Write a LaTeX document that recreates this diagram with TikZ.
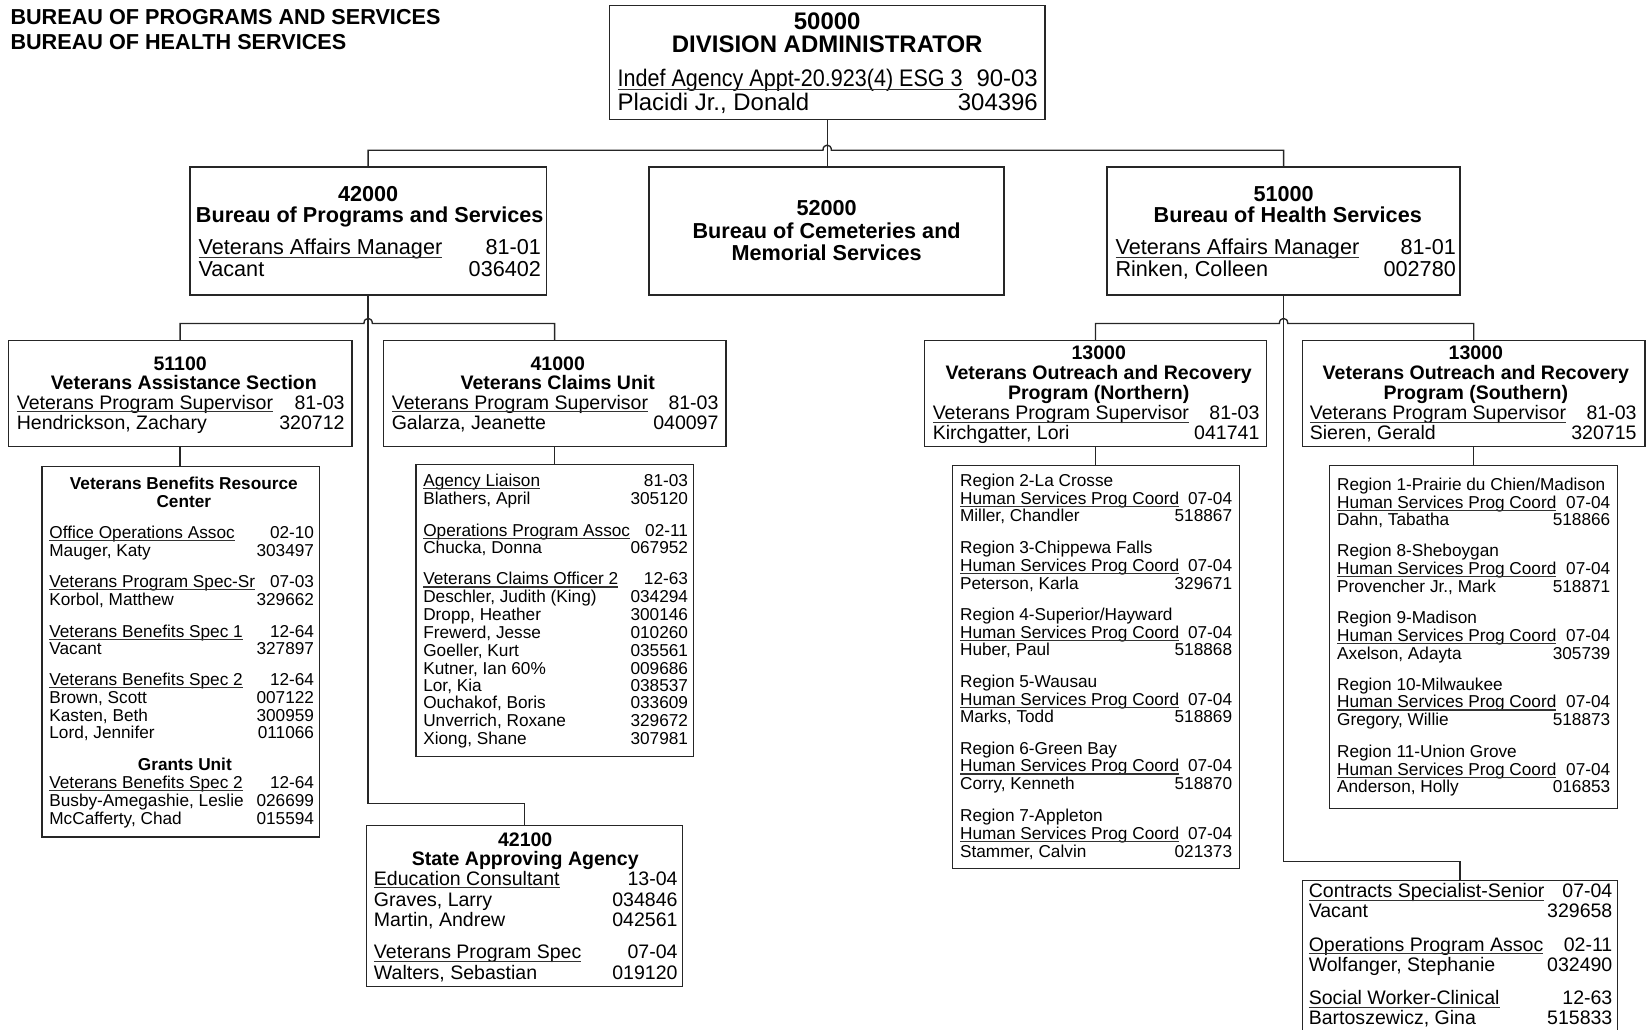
\documentclass[tikz,border=0pt]{standalone}
\usepackage{graphicx}
\usepackage{fontspec}
\setmainfont{Liberation Sans}
\usetikzlibrary{fit}
\newcounter{tn}
\newcommand\setgrp[3]{\tikzset{cur/.style={font=\fontsize{#1}{#1}\selectfont},curb/.style={font=\fontsize{#1}{#1}\selectfont\bfseries}}\def\yo{#2}\def\ud{#3}}
\newcommand\Lt[3]{\stepcounter{tn}\node[cur,txt,anchor=base west] (t\arabic{tn}) at (#1,{#2+\yo}) {#3};}
\newcommand\Rt[3]{\stepcounter{tn}\node[cur,txt,anchor=base east] (t\arabic{tn}) at (#1,{#2+\yo}) {#3};}
\newcommand\Ct[3]{\stepcounter{tn}\node[curb,txt,anchor=base] (t\arabic{tn}) at (#1,{#2+\yo}) {#3};}
\newcommand\Ul[5]{\Lt{#1}{#3}{#4}\draw[uline] ([yshift=-\ud]t\arabic{tn}.base west) -- ([yshift=-\ud]t\arabic{tn}.base east);\Rt{#2}{#3}{#5}}
\newcommand\Pl[5]{\Lt{#1}{#3}{#4}\Rt{#2}{#3}{#5}}
\begin{document}
\begin{tikzpicture}[x=0.5pt,y=-0.5pt,
  box/.style={draw=black!85,line width=0.65pt,inner sep=0pt,outer sep=0pt},
  con/.style={draw=black!85,line width=0.65pt},
  uline/.style={draw=black!80,line width=0.55pt},
  txt/.style={inner sep=0pt,outer sep=0pt,text=black}]
\useasboundingbox (0,0) rectangle (1568,980);
\clip (0,0) rectangle (1568,980);

% ---------- boxes ----------
\node[box,fit={(580,5) (995,114)}] (b50000) {};
\node[box,fit={(181,159) (520,281)}] (b42000) {};
\node[box,fit={(618,159) (956,281)}] (b52000) {};
\node[box,fit={(1054,159) (1390,281)}] (b51000) {};
\node[box,fit={(8,324) (335,425)}] (b51100) {};
\node[box,fit={(365,324) (691,425)}] (b41000) {};
\node[box,fit={(880,324) (1206,425)}] (b13N) {};
\node[box,fit={(1240,324) (1566,425)}] (b13S) {};
\node[box,fit={(40,444) (304,797)}] (bVBRC) {};
\node[box,fit={(396,442) (660,720)}] (bClaims) {};
\node[box,fit={(349,786) (650,939)}] (b42100) {};
\node[box,fit={(907,443) (1180,827)}] (bRegN) {};
\node[box,fit={(1266,443) (1540,770)}] (bRegS) {};
\node[box,fit={(1240,838) (1540,1000)}] (bCon) {};

% ---------- connectors ----------
\coordinate (tb1) at (783.5,143); \coordinate (tb2) at (791.5,143);
\draw[con] (b42000.north) |- (tb1) .. controls +(0,-6.5) and +(0,-6.5) .. (tb2) -| (b51000.north);
\draw[con] (b50000.south) -- (b50000.south |- b52000.north);
\coordinate (lb1) at (346.5,308); \coordinate (lb2) at (354.5,308);
\draw[con] (b51100.north) |- (lb1) .. controls +(0,-6.5) and +(0,-6.5) .. (lb2) -| (b41000.north);
\coordinate (k42) at (499.5,765);
\draw[con] (b42000.south) |- (k42) -- (b42100.north);
\draw[con] (b51100.south) -- (b51100.south |- bVBRC.north);
\draw[con] (b41000.south) -- (b41000.south |- bClaims.north);
\coordinate (rb1) at (1218,308); \coordinate (rb2) at (1226,308);
\draw[con] (b13N.north) |- (rb1) .. controls +(0,-6.5) and +(0,-6.5) .. (rb2) -| (b13S.north);
\coordinate (kc) at (1390,820);
\draw[con] (b51000.south) |- (kc) -- (bCon.north);
\draw[con] (b13N.south) -- (b13N.south |- bRegN.north);
\draw[con] (b13S.south) -- (b13S.south |- bRegS.north);

% ---------- header ----------
\setgrp{10.3}{7.4}{1.4}
\node[curb,txt,anchor=base west] (h1) at (10,{16+\yo}) {BUREAU OF PROGRAMS AND SERVICES};
\node[curb,txt,anchor=base west] (h2) at (10,{40+\yo}) {BUREAU OF HEALTH SERVICES};

% ---------- division ----------
\setgrp{11.4}{8.2}{1.6}
\Ct{787.5}{20}{50000}
\Ct{787.5}{42}{DIVISION ADMINISTRATOR}
\Ul{588}{988}{74}{\scalebox{0.9}[1]{Indef Agency Appt-20.923(4) ESG 3}}{90-03}
\Pl{588}{988}{97}{Placidi Jr., Donald}{304396}

% ---------- level 2 ----------
\setgrp{10.3}{7.4}{1.4}
\Ct{350.5}{184}{42000}
\Ct{352}{204}{Bureau of Programs and Services}
\Ul{189}{515}{235}{Veterans Affairs Manager}{81-01}
\Pl{189}{515}{256}{Vacant}{036402}

\Ct{787}{198}{52000}
\Ct{787}{220}{Bureau of Cemeteries and}
\Ct{787}{241}{Memorial Services}

\Ct{1222}{184}{51000}
\Ct{1226}{204}{Bureau of Health Services}
\Ul{1062}{1386}{235}{Veterans Affairs Manager}{81-01}
\Pl{1062}{1386}{256}{Rinken, Colleen}{002780}

% ---------- level 3 ----------
\setgrp{9.3}{6.7}{1.2}
\Ct{171.5}{346}{51100}
\Ct{175}{364}{Veterans Assistance Section}
\Ul{16}{328}{383}{Veterans Program Supervisor}{81-03}
\Pl{16}{328}{402}{Hendrickson, Zachary}{320712}

\Ct{531}{346}{41000}
\Ct{531}{364}{Veterans Claims Unit}
\Ul{373}{684}{383}{Veterans Program Supervisor}{81-03}
\Pl{373}{684}{402}{Galarza, Jeanette}{040097}

\Ct{1046}{336}{13000}
\Ct{1046}{355}{Veterans Outreach and Recovery}
\Ct{1046}{374}{Program (Northern)}
\Ul{888}{1199}{393}{Veterans Program Supervisor}{81-03}
\Pl{888}{1199}{412}{Kirchgatter, Lori}{041741}

\Ct{1405}{336}{13000}
\Ct{1405}{355}{Veterans Outreach and Recovery}
\Ct{1405}{374}{Program (Southern)}
\Ul{1247}{1558}{393}{Veterans Program Supervisor}{81-03}
\Pl{1247}{1558}{412}{Sieren, Gerald}{320715}

% ---------- 42100 ----------
\Ct{500}{799}{42100}
\Ct{500}{817}{State Approving Agency}
\Ul{356}{645}{836}{Education Consultant}{13-04}
\Pl{356}{645}{856}{Graves, Larry}{034846}
\Pl{356}{645}{875}{Martin, Andrew}{042561}
\Ul{356}{645}{906}{Veterans Program Spec}{07-04}
\Pl{356}{645}{926}{Walters, Sebastian}{019120}

% ---------- contracts ----------
\Ul{1246}{1535}{848}{Contracts Specialist-Senior}{07-04}
\Pl{1246}{1535}{867}{Vacant}{329658}
\Ul{1246}{1535}{899}{Operations Program Assoc}{02-11}
\Pl{1246}{1535}{918}{Wolfanger, Stephanie}{032490}
\Ul{1246}{1535}{950}{Social Worker-Clinical}{12-63}
\Pl{1246}{1535}{969}{Bartoszewicz, Gina}{515833}

% ---------- VBRC ----------
\setgrp{8.2}{5.9}{1.0}
\Ct{175}{460}{Veterans Benefits Resource}
\Ct{175}{477}{Center}
\Ul{47}{299}{507}{Office Operations Assoc}{02-10}
\Pl{47}{299}{524}{Mauger, Katy}{303497}
\Ul{47}{299}{553}{Veterans Program Spec-Sr}{07-03}
\Pl{47}{299}{571}{Korbol, Matthew}{329662}
\Ul{47}{299}{601}{Veterans Benefits Spec 1}{12-64}
\Pl{47}{299}{617}{Vacant}{327897}
\Ul{47}{299}{647}{Veterans Benefits Spec 2}{12-64}
\Pl{47}{299}{664}{Brown, Scott}{007122}
\Pl{47}{299}{681}{Kasten, Beth}{300959}
\Pl{47}{299}{697}{Lord, Jennifer}{011066}
\Ct{176}{728}{Grants Unit}
\Ul{47}{299}{745}{Veterans Benefits Spec 2}{12-64}
\Pl{47}{299}{762}{Busby-Amegashie, Leslie}{026699}
\Pl{47}{299}{779}{McCafferty, Chad}{015594}

% ---------- Claims sub ----------
\Ul{403}{655}{457}{Agency Liaison}{81-03}
\Pl{403}{655}{474}{Blathers, April}{305120}
\Ul{403}{655}{505}{Operations Program Assoc}{02-11}
\Pl{403}{655}{521}{Chucka, Donna}{067952}
\Ul{403}{655}{551}{Veterans Claims Officer 2}{12-63}
\Pl{403}{655}{568}{Deschler, Judith (King)}{034294}
\Pl{403}{655}{585}{Dropp, Heather}{300146}
\Pl{403}{655}{602}{Frewerd, Jesse}{010260}
\Pl{403}{655}{619}{Goeller, Kurt}{035561}
\Pl{403}{655}{636}{Kutner, Ian 60\%}{009686}
\Pl{403}{655}{652}{Lor, Kia}{038537}
\Pl{403}{655}{669}{Ouchakof, Boris}{033609}
\Pl{403}{655}{686}{Unverrich, Roxane}{329672}
\Pl{403}{655}{703}{Xiong, Shane}{307981}

% ---------- Region N ----------
\Lt{914}{457}{Region 2-La Crosse}
\Ul{914}{1173}{474}{Human Services Prog Coord}{07-04}
\Pl{914}{1173}{491}{Miller, Chandler}{518867}
\Lt{914}{521}{Region 3-Chippewa Falls}
\Ul{914}{1173}{538}{Human Services Prog Coord}{07-04}
\Pl{914}{1173}{555}{Peterson, Karla}{329671}
\Lt{914}{585}{Region 4-Superior/Hayward}
\Ul{914}{1173}{602}{Human Services Prog Coord}{07-04}
\Pl{914}{1173}{618}{Huber, Paul}{518868}
\Lt{914}{649}{Region 5-Wausau}
\Ul{914}{1173}{666}{Human Services Prog Coord}{07-04}
\Pl{914}{1173}{682}{Marks, Todd}{518869}
\Lt{914}{712}{Region 6-Green Bay}
\Ul{914}{1173}{729}{Human Services Prog Coord}{07-04}
\Pl{914}{1173}{746}{Corry, Kenneth}{518870}
\Lt{914}{776}{Region 7-Appleton}
\Ul{914}{1173}{793}{Human Services Prog Coord}{07-04}
\Pl{914}{1173}{810}{Stammer, Calvin}{021373}

% ---------- Region S ----------
\Lt{1273}{461}{Region 1-Prairie du Chien/Madison}
\Ul{1273}{1533}{478}{Human Services Prog Coord}{07-04}
\Pl{1273}{1533}{494}{Dahn, Tabatha}{518866}
\Lt{1273}{524}{Region 8-Sheboygan}
\Ul{1273}{1533}{541}{Human Services Prog Coord}{07-04}
\Pl{1273}{1533}{558}{Provencher Jr., Mark}{518871}
\Lt{1273}{588}{Region 9-Madison}
\Ul{1273}{1533}{605}{Human Services Prog Coord}{07-04}
\Pl{1273}{1533}{622}{Axelson, Adayta}{305739}
\Lt{1273}{651}{Region 10-Milwaukee}
\Ul{1273}{1533}{668}{Human Services Prog Coord}{07-04}
\Pl{1273}{1533}{685}{Gregory, Willie}{518873}
\Lt{1273}{715}{Region 11-Union Grove}
\Ul{1273}{1533}{732}{Human Services Prog Coord}{07-04}
\Pl{1273}{1533}{749}{Anderson, Holly}{016853}
\end{tikzpicture}
\end{document}
